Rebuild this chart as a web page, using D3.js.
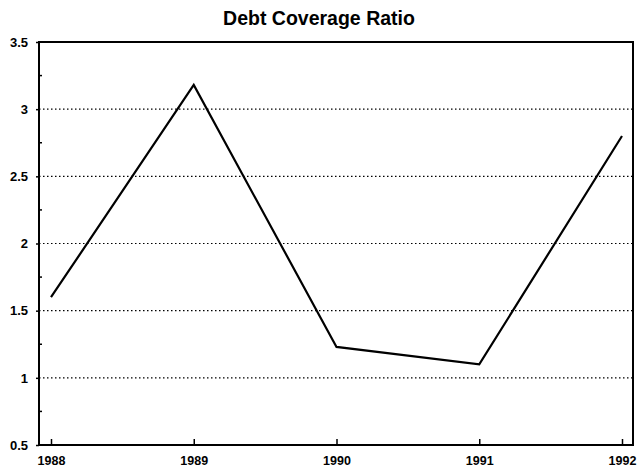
<!DOCTYPE html>
<html><head><meta charset="utf-8">
<script src="https://cdn.jsdelivr.net/npm/d3@7"></script>
<style>body{margin:0;background:#fff}svg{display:block}</style>
</head><body><svg id="c" width="637" height="474"></svg>
<script>
const title = "Debt Coverage Ratio";
const years = [1988, 1989, 1990, 1991, 1992];
const values = [1.6, 3.18, 1.23, 1.1, 2.8];
const yTicks = [0.5, 1, 1.5, 2, 2.5, 3, 3.5];
const yTickLabels = ["0.5", "1", "1.5", "2", "2.5", "3", "3.5"];
const gridValues = [1, 1.5, 2, 2.5, 3];
const minorTicks = [0.75, 1.25, 1.75, 2.25, 2.75, 3.25];

const svg = d3.select("#c");
const frame = {left: 39, right: 633, top: 42, bottom: 445};
const x = d3.scaleLinear().domain([1988, 1992]).range([51, 622]);
const y = d3.scaleLinear().domain([0.5, 3.5]).range([frame.bottom, frame.top]);
const font = "'Liberation Sans', Arial, sans-serif";

svg.append("text").attr("x", 319).attr("y", 25).attr("text-anchor", "middle")
  .attr("font-family", font).attr("font-weight", "bold").attr("font-size", 19.5)
  .text(title);

// gridlines
svg.append("g").selectAll("line").data(gridValues).join("line")
  .attr("x1", frame.left).attr("x2", frame.right)
  .attr("y1", d => y(d)).attr("y2", d => y(d))
  .attr("stroke", "#000").attr("stroke-width", 1.2).attr("stroke-dasharray", "1.5,2.5");

// y axis
const yAxis = d3.axisLeft(y).tickValues(yTicks).tickFormat((d, i) => yTickLabels[i])
  .tickSize(3).tickPadding(8);
const gy = svg.append("g").attr("transform", `translate(${frame.left},0)`).call(yAxis);
gy.select(".domain").remove();
gy.selectAll("line").attr("stroke", "#000").attr("stroke-width", 1.5);
gy.selectAll("text").attr("font-family", font).attr("font-weight", "bold").attr("font-size", 13).attr("fill", "#000");

// minor inward ticks on y
svg.append("g").selectAll("line").data(minorTicks).join("line")
  .attr("x1", frame.left).attr("x2", frame.left + 3)
  .attr("y1", d => y(d)).attr("y2", d => y(d))
  .attr("stroke", "#000").attr("stroke-width", 1.5);

// x axis
const xAxis = d3.axisBottom(x).tickValues(years).tickFormat(d3.format("d"))
  .tickSizeInner(-6).tickSizeOuter(0).tickPadding(11);
const gx = svg.append("g").attr("transform", `translate(0,${frame.bottom})`).call(xAxis);
gx.select(".domain").remove();
gx.selectAll("line").attr("stroke", "#000").attr("stroke-width", 1.5);
gx.selectAll("text").attr("font-family", font).attr("font-weight", "bold").attr("font-size", 12.5).attr("fill", "#000");

// frame
svg.append("rect").attr("x", frame.left).attr("y", frame.top)
  .attr("width", frame.right - frame.left).attr("height", frame.bottom - frame.top)
  .attr("fill", "none").attr("stroke", "#000").attr("stroke-width", 2);

// line
const line = d3.line().x((d, i) => x(years[i])).y(d => y(d));
svg.append("path").datum(values).attr("d", line)
  .attr("fill", "none").attr("stroke", "#000").attr("stroke-width", 2.2).attr("stroke-linejoin", "miter");
</script></body></html>
